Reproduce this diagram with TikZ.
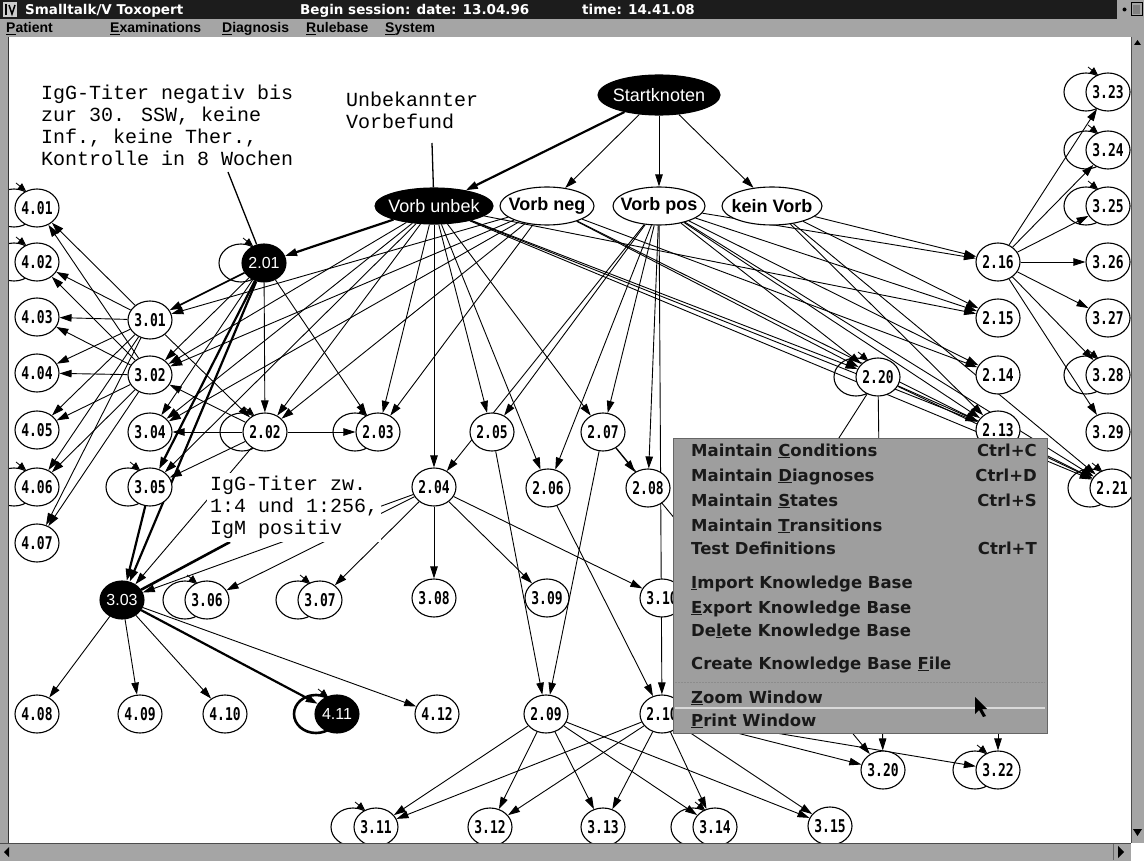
\documentclass[tikz,border=0pt]{standalone}
\usepackage{fontspec}
\usepackage{graphicx}
\setmainfont{Liberation Sans}
\newfontfamily\monof{Liberation Mono}
\newfontfamily\numf{DejaVu Sans Mono}
\newfontfamily\uif{DejaVu Sans}
\usetikzlibrary{arrows.meta,shapes.geometric,backgrounds,calc}
\definecolor{uigray}{RGB}{165,165,165}
\definecolor{titlebg}{RGB}{28,28,28}
\definecolor{popbg}{RGB}{158,158,158}
\newcommand\nlab[1]{\makebox[0pt]{\scalebox{1}[1.35]{\numf\bfseries\fontsize{13}{13}\selectfont #1}}}
\newcommand\wlab[1]{\makebox[0pt]{\color{white}\fontsize{16}{16}\selectfont #1}}
\newcommand\elabw[1]{\makebox[0pt]{\color{white}\fontsize{18}{18}\selectfont #1}}
\newcommand\elabb[1]{\makebox[0pt]{\bfseries\fontsize{18}{18}\selectfont #1}}
\newcommand\gtip[1]{\draw[looptip] ($(#1)+(2,-25)$) -- ($(#1)+(12,-17)$);}
\begin{document}
\begin{tikzpicture}[x=1pt,y=-1pt,
  nd/.style={ellipse,draw,line width=1.1pt,fill=white,minimum width=44pt,minimum height=38pt,inner sep=0pt},
  bnd/.style={nd,fill=black},
  gh/.style={ellipse,draw,line width=1.1pt,minimum width=44pt,minimum height=38pt,inner sep=0pt},
  ed/.style={-{Triangle[length=12pt,width=7.5pt]},line width=0.9pt},
  thk/.style={ed,line width=2.2pt},
  looptip/.style={-{Triangle[length=8pt,width=7pt]},line width=0.8pt},
  anno/.style={font=\monof\fontsize{20}{22}\selectfont,align=left,inner sep=1pt},
  mi/.style={anchor=base west,inner sep=0pt,font=\uif\bfseries\fontsize{16.5}{16.5}\selectfont,text=black!90},
  mk/.style={anchor=base east,inner sep=0pt,font=\uif\bfseries\fontsize{16.5}{16.5}\selectfont,text=black!90},
  mb/.style={anchor=base west,inner sep=0pt,font=\bfseries\fontsize{14}{14}\selectfont,text=black},
  tt/.style={anchor=base west,inner sep=0pt,font=\uif\bfseries\fontsize{13.5}{13.5}\selectfont,text=white}
]
\useasboundingbox (0,0) rectangle (1144,861);
\begin{scope}[on background layer]
  \fill[white] (0,0) rectangle (1144,861);
\end{scope}

% ---------- top ellipses
\node[bnd,minimum width=122pt,minimum height=40pt] (S) at (659,95) {\elabw{Startknoten}};
\node[bnd,minimum width=118pt,minimum height=36pt] (VU) at (434,206) {\elabw{Vorb unbek}};
\node[nd,minimum width=94pt,minimum height=38pt] (VN) at (547,206) {\elabb{Vorb neg}};
\node[nd,minimum width=92pt,minimum height=38pt] (VP) at (659,206) {\elabb{Vorb pos}};
\node[nd,minimum width=100pt,minimum height=38pt] (KV) at (772,206) {\elabb{kein Vorb}};

% ---------- ghost circles (self loops)
\foreach \g/\x/\y in {g201/241/263,g305/128/487,g401/14/208,g402/14/262,g406/14/487,
  g202/242/432,g203/355/432,g306/185/600,g307/298/600,g311/353/827,g314/693/827,
  g322/975/770,g220/856/377,g221/1090/488,g323/1086/92,g324/1086/150,g325/1086/206,g328/1086/375}
  {\node[gh] (\g) at (\x,\y) {};}
\node[gh,line width=2.6pt] (g411) at (316,714) {};

% ---------- circle nodes
\node[bnd] (n201) at (264,263) {\wlab{2.01}};
\node[nd] (n301) at (150,320) {\nlab{3.01}};
\node[nd] (n302) at (150,375) {\nlab{3.02}};
\node[nd] (n304) at (150,432) {\nlab{3.04}};
\node[nd] (n305) at (150,487) {\nlab{3.05}};
\node[nd] (n401) at (37,208) {\nlab{4.01}};
\node[nd] (n402) at (37,262) {\nlab{4.02}};
\node[nd] (n403) at (37,317) {\nlab{4.03}};
\node[nd] (n404) at (37,373) {\nlab{4.04}};
\node[nd] (n405) at (37,430) {\nlab{4.05}};
\node[nd] (n406) at (37,487) {\nlab{4.06}};
\node[nd] (n407) at (37,543) {\nlab{4.07}};
\node[nd] (n202) at (265,432) {\nlab{2.02}};
\node[nd] (n203) at (378,432) {\nlab{2.03}};
\node[nd] (n204) at (434,487) {\nlab{2.04}};
\node[nd] (n205) at (492,432) {\nlab{2.05}};
\node[nd] (n206) at (548,488) {\nlab{2.06}};
\node[nd] (n207) at (603,432) {\nlab{2.07}};
\node[nd] (n208) at (648,488) {\nlab{2.08}};
\node[bnd] (n303) at (122,600) {\wlab{3.03}};
\node[nd] (n306) at (207,600) {\nlab{3.06}};
\node[nd] (n307) at (320,600) {\nlab{3.07}};
\node[nd] (n308) at (434,598) {\nlab{3.08}};
\node[nd] (n309) at (547,598) {\nlab{3.09}};
\node[nd] (n310) at (662,598) {\nlab{3.10}};
\node[nd] (n408) at (37,714) {\nlab{4.08}};
\node[nd] (n409) at (140,714) {\nlab{4.09}};
\node[nd] (n410) at (225,714) {\nlab{4.10}};
\node[bnd] (n411) at (337,714) {\wlab{4.11}};
\node[nd] (n412) at (437,714) {\nlab{4.12}};
\node[nd] (n209) at (546,714) {\nlab{2.09}};
\node[nd] (n210) at (662,714) {\nlab{2.10}};
\node[nd] (n311) at (376,827) {\nlab{3.11}};
\node[nd] (n312) at (490,827) {\nlab{3.12}};
\node[nd] (n313) at (603,827) {\nlab{3.13}};
\node[nd] (n314) at (715,827) {\nlab{3.14}};
\node[nd] (n315) at (830,826) {\nlab{3.15}};
\node[nd] (n320) at (883,770) {\nlab{3.20}};
\node[nd] (n322) at (998,770) {\nlab{3.22}};
\node[nd] (n216) at (998,262) {\nlab{2.16}};
\node[nd] (n215) at (998,318) {\nlab{2.15}};
\node[nd] (n214) at (998,375) {\nlab{2.14}};
\node[nd] (n213) at (998,430) {\nlab{2.13}};
\node[nd] (n220) at (878,377) {\nlab{2.20}};
\node[nd] (n221) at (1112,488) {\nlab{2.21}};
\node[nd] (n323) at (1108,92) {\nlab{3.23}};
\node[nd] (n324) at (1108,150) {\nlab{3.24}};
\node[nd] (n325) at (1108,206) {\nlab{3.25}};
\node[nd] (n326) at (1108,262) {\nlab{3.26}};
\node[nd] (n327) at (1108,318) {\nlab{3.27}};
\node[nd] (n328) at (1108,375) {\nlab{3.28}};
\node[nd] (n329) at (1108,432) {\nlab{3.29}};

% ---------- annotations
\node[anno,anchor=north west] (a1) at (40,84) {IgG-Titer negativ bis\\zur 30. SSW, keine\\Inf., keine Ther.,\\Kontrolle in 8 Wochen};
\node[anno,anchor=north west] (a2) at (345,91) {Unbekannter\\Vorbefund};
\node[anno,anchor=north west,fill=white,inner sep=3pt] (a3) at (207,473) {IgG-Titer zw.\\1:4 und 1:256,\\IgM positiv};
\coordinate (a1e) at (228,172);
\coordinate (a2e) at (432,143);
\coordinate (a3e) at (230,542);

% ---------- edges
\begin{scope}[on background layer]
  \draw[line width=1.3pt] (a1e) -- (n201);
  \draw[line width=1.3pt] (a2e) -- (VU);
  \draw[line width=2.6pt] (a3e) -- (n303);
  \draw[thk] (S) -- (VU);
  \foreach \t in {VN,VP,KV} {\draw[ed] (S) -- (\t);}
  \draw[thk] (VU) -- (n201);
  \foreach \t in {n302,n304,n305,n202,n203,n204,n205,n206,n207,n215,n220,n213,n221}
    {\draw[ed] (VU) -- (\t);}
  \foreach \t in {n301,n302,n304,n202,n203,n214,n220,n221}
    {\draw[ed] (VN) -- (\t);}
  \foreach \t in {n204,n205,n206,n207,n208,n210,n216,n215,n214,n213,n220,n221}
    {\draw[ed] (VP) -- (\t);}
  \foreach \t in {n216,n215,n213,n221}
    {\draw[ed] (KV) -- (\t);}
  \draw[ed,line width=1.6pt] (n201) -- (n301);
  \foreach \t in {n302,n304,n202,n203}
    {\draw[ed] (n201) -- (\t);}
  \draw[thk] (n201) -- (n305);
  \draw[thk] (n201) -- (n303);
  \foreach \t in {n401,n402,n403,n404,n405,n406,n407,n202}
    {\draw[ed] (n301) -- (\t);}
  \foreach \t in {n401,n402,n403,n404,n405,n406,n407}
    {\draw[ed] (n302) -- (\t);}
  \foreach \t in {n302,n304,n305,n203,n303}
    {\draw[ed] (n202) -- (\t);}
  \draw[thk] (n305) -- (n303);
  \foreach \t in {n303,n306,n307,n308,n309,n310}
    {\draw[ed] (n204) -- (\t);}
  \draw[ed] (n205) -- (n209);
  \draw[ed] (n206) -- (n210);
  \foreach \t in {n208,n209,n320}
    {\draw[ed] (n207) -- (\t);}
  \foreach \t in {n408,n409,n410,n412}
    {\draw[ed] (n303) -- (\t);}
  \draw[thk] (n303) -- (n411);
  \foreach \t in {n311,n312,n313,n314,n315}
    {\draw[ed] (n209) -- (\t);}
  \foreach \t in {n311,n312,n313,n314,n315,n320,n322}
    {\draw[ed] (n210) -- (\t);}
  \foreach \t in {n323,n324,n325,n326,n327,n328,n329}
    {\draw[ed] (n216) -- (\t);}
  \foreach \t in {n213,n221,n320,n210}
    {\draw[ed] (n220) -- (\t);}
  \draw[ed] (n213) -- (n322);
\end{scope}

% ---------- loop tips
\foreach \x/\y in {241/263,128/487,14/208,14/262,14/487,242/432,355/432,185/600,298/600,
  353/827,693/827,975/770,856/377,1090/488,1086/92,1086/150,1086/206,1086/375,316/714}
  {\gtip{\x,\y}}

% ---------- popup menu
\fill[popbg] (673,438) rectangle (1047,733);
\draw[black!60,line width=0.6pt] (673,438) rectangle (1047,733);
\draw[black!45,line width=1pt,dash pattern=on 2pt off 1pt] (675,682) -- (1045,682);
\draw[white!85!black,line width=1.2pt] (675,708) -- (1045,708);
\node[mi] (m1) at (691,456) {Maintain \underline{C}onditions};
\node[mi] (m2) at (691,481) {Maintain \underline{D}iagnoses};
\node[mi] (m3) at (691,506) {Maintain \underline{S}tates};
\node[mi] (m4) at (691,531) {Maintain \underline{T}ransitions};
\node[mi] (m5) at (691,554) {Test Definitions};
\node[mi] (m6) at (691,588) {\underline{I}mport Knowledge Base};
\node[mi] (m7) at (691,613) {\underline{E}xport Knowledge Base};
\node[mi] (m8) at (691,636) {De\underline{l}ete Knowledge Base};
\node[mi] (m9) at (691,669) {Create Knowledge Base \underline{F}ile};
\node[mi] (m10) at (691,703) {\underline{Z}oom Window};
\node[mi] (m11) at (691,726) {\underline{P}rint Window};
\node[mk] (k1) at (1037,456) {Ctrl+C};
\node[mk] (k2) at (1037,481) {Ctrl+D};
\node[mk] (k3) at (1037,506) {Ctrl+S};
\node[mk] (k5) at (1037,554) {Ctrl+T};
% mouse pointer
\fill[black] (975,697) -- (975,714) -- (979,710) -- (983,717) -- (986,716) -- (982,709) -- (987,709) -- cycle;

% ---------- window frame
\fill[uigray] (0,37) rectangle (8,843);
\draw[black!80,line width=1pt] (8.5,37) -- (8.5,843);
\fill[uigray] (1131,37) rectangle (1144,843);
\draw[black!70,line width=0.8pt] (1131,37) -- (1131,843);
\fill[black] (1134,45) -- (1141,45) -- (1137.5,40) -- cycle;
\fill[black] (1133,829) -- (1142,829) -- (1137.5,836) -- cycle;
\fill[uigray] (0,843) rectangle (1131,861);
\draw[black!70,line width=0.8pt] (0,843) -- (1131,843);
\fill[white] (1131,843) rectangle (1144,861);
\fill[black] (9,847) -- (9,857) -- (4,852) -- cycle;
\fill[black] (1118,846) -- (1118,858) -- (1124,852) -- cycle;
\draw[black!60] (1113,844) -- (1113,860);
% title bar
\fill[titlebg] (0,0) rectangle (1117,19);
\fill[uigray] (1117,0) rectangle (1144,19);
\fill[black] (1124.5,9.5) circle (2pt);
\draw[black,line width=1pt] (1131,3) rectangle (1142,16);
\fill[black!50] (1133,5) rectangle (1140,14);
\fill[white!80!black] (3,2) rectangle (17,17);
\draw[black,line width=2pt] (6,4) -- (6,15);
\draw[black,line width=1.5pt] (9,5) -- (12,14) -- (15,5);
\node[tt] (t1) at (25,15) {Smalltalk/V Toxopert};
\node[tt] (t2) at (300,15) {Begin session: date: 13.04.96};
\node[tt] (t3) at (582,15) {time: 14.41.08};
% menu bar
\fill[uigray] (0,19) rectangle (1144,37);
\node[mb] (b1) at (6,33) {\underline{P}atient};
\node[mb] (b2) at (110,33) {\underline{E}xaminations};
\node[mb] (b3) at (222,33) {\underline{D}iagnosis};
\node[mb] (b4) at (306,33) {\underline{R}ulebase};
\node[mb] (b5) at (385,33) {\underline{S}ystem};
\end{tikzpicture}
\end{document}
